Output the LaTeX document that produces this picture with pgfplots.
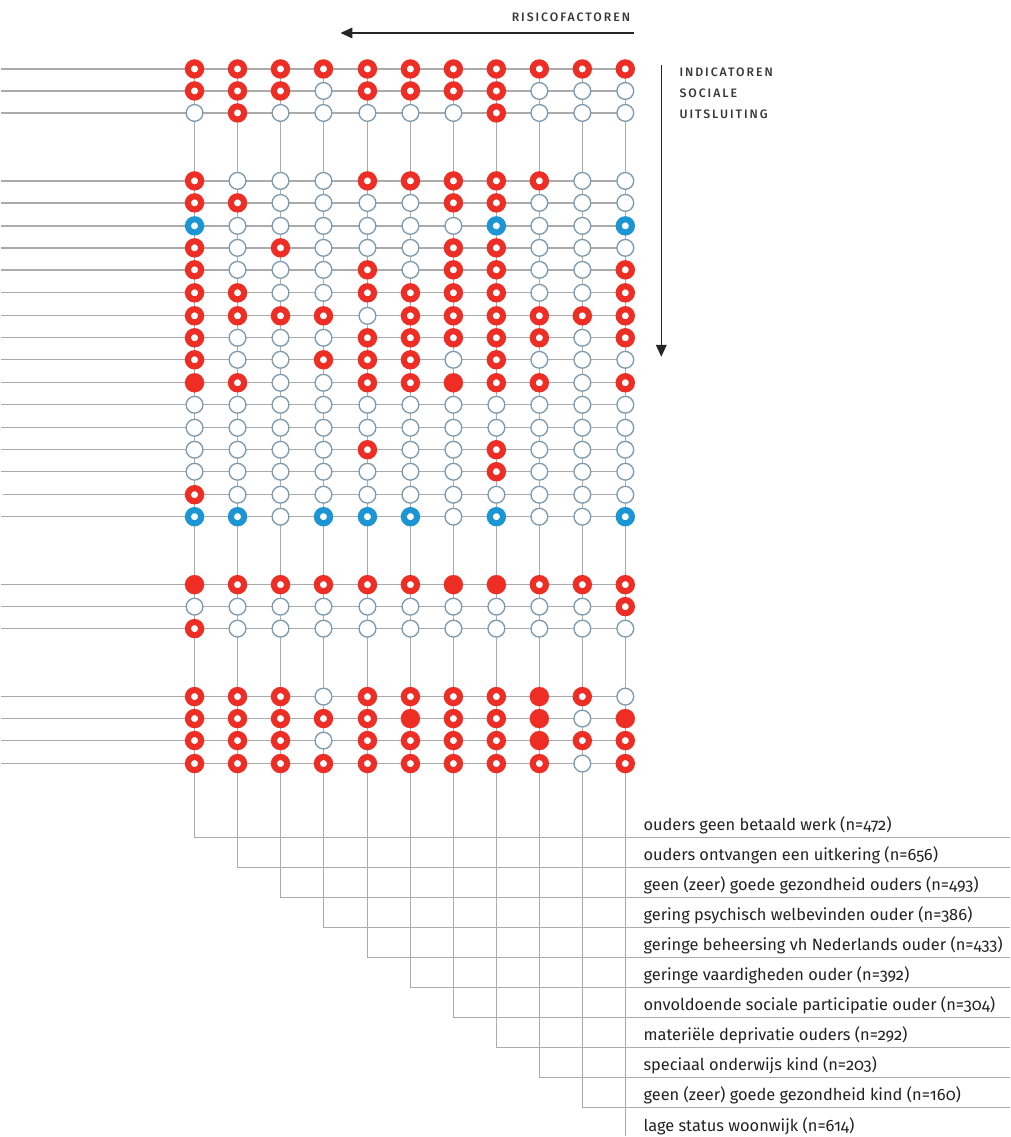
\documentclass[border=0pt]{standalone}
\usepackage{pgfplots}
\pgfplotsset{compat=1.18}
\usepackage{pgfplotstable}
\usepackage{fontspec}
\setmainfont{Fira Sans}[Numbers=OldStyle]
\newfontfamily\capsfont{Fira Sans}[UprightFont=* Medium, LetterSpace=16]
\usetikzlibrary{arrows.meta}

\definecolor{dotred}{HTML}{EE2E24}
\definecolor{dotblue}{HTML}{1B95D3}
\definecolor{ringgray}{HTML}{7E9AAE}
\definecolor{linegray}{HTML}{ABABAB}
\definecolor{txt}{HTML}{222222}

% O = geen verband, R = verband, S = sterk verband, B = omgekeerd verband
\pgfplotstableread{
y   c1 c2 c3 c4 c5 c6 c7 c8 c9 c10 c11
69  R  R  R  R  R  R  R  R  R  R   R
91  R  R  R  O  R  R  R  R  O  O   O
113 O  R  O  O  O  O  O  R  O  O   O
181 R  O  O  O  R  R  R  R  R  O   O
203 R  R  O  O  O  O  R  R  O  O   O
226 B  O  O  O  O  O  O  B  O  O   B
248 R  O  R  O  O  O  R  R  O  O   O
270 R  O  O  O  R  O  R  R  O  O   R
293 R  R  O  O  R  R  R  R  O  O   R
316 R  R  R  R  O  R  R  R  R  R   R
338 R  O  O  O  R  R  R  R  R  O   R
360 R  O  O  R  R  R  O  R  O  O   O
383 S  R  O  O  R  R  S  R  R  O   R
405 O  O  O  O  O  O  O  O  O  O   O
428 O  O  O  O  O  O  O  O  O  O   O
450 O  O  O  O  R  O  O  R  O  O   O
472 O  O  O  O  O  O  O  R  O  O   O
495 R  O  O  O  O  O  O  O  O  O   O
517 B  B  O  B  B  B  O  B  O  O   B
585 S  R  R  R  R  R  S  S  R  R   R
607 O  O  O  O  O  O  O  O  O  O   R
629 R  O  O  O  O  O  O  O  O  O   O
697 R  R  R  O  R  R  R  R  S  R   O
719 R  R  R  R  R  S  R  R  S  O   S
741 R  R  R  O  R  R  R  R  S  R   R
764 R  R  R  R  R  R  R  R  R  O   R
}\grid

\pgfplotsset{
  dots/.style={scatter, only marks, scatter src=explicit symbolic,
    scatter/classes={
      O={mark=*, mark size=6.3pt, draw=ringgray, fill=white, line width=1.0pt},
      R={mark=*, mark size=4.95pt, draw=dotred, fill=white, line width=4.6pt},
      S={mark=*, mark size=7.2pt, draw=dotred, fill=dotred, line width=0.1pt},
      B={mark=*, mark size=4.95pt, draw=dotblue, fill=white, line width=4.6pt}}},
  conn/.style={linegray, line width=1.0pt, no marks},
}
\tikzset{
  factorlabel/.style={anchor=west, inner sep=0pt, text=txt, font=\fontsize{12.3}{14}\selectfont},
  headlabel/.style={inner sep=0pt, text=txt!90, font=\capsfont\fontsize{9.2}{10}\selectfont},
}

\begin{document}
\begin{tikzpicture}
\begin{axis}[
    width=757.5pt, height=852.75pt, scale only axis,
    xmin=0, xmax=1010, ymin=0, ymax=1137, y dir=reverse,
    hide axis, clip=false]
\path (rel axis cs:0,0) rectangle (rel axis cs:1,1);

% rijen
\pgfplotsinvokeforeach{69,91,113,181,203,226,248,270,293,316,338,360,383,405,428,450,472,517,585,607,629,697,719,741,764}{
  \addplot[conn] coordinates {(0,#1) (625,#1)};
}
\addplot[conn] coordinates {(2,495) (625,495)};

% kolommen naar de legenda
\addplot[conn] coordinates {(194,69) (194,838)  (1010,838)};
\addplot[conn] coordinates {(237,69) (237,868)  (1010,868)};
\addplot[conn] coordinates {(280,69) (280,898)  (1010,898)};
\addplot[conn] coordinates {(323,69) (323,928)  (1010,928)};
\addplot[conn] coordinates {(367,69) (367,958)  (1010,958)};
\addplot[conn] coordinates {(410,69) (410,988)  (1010,988)};
\addplot[conn] coordinates {(453,69) (453,1018) (1010,1018)};
\addplot[conn] coordinates {(496,69) (496,1048) (1010,1048)};
\addplot[conn] coordinates {(539,69) (539,1078) (1010,1078)};
\addplot[conn] coordinates {(582,69) (582,1108) (1010,1108)};
\addplot[conn] coordinates {(625,69) (625,1137)};

% cirkels
\addplot[dots] table[x expr=194, y=y, meta=c1]  {\grid};
\addplot[dots] table[x expr=237, y=y, meta=c2]  {\grid};
\addplot[dots] table[x expr=280, y=y, meta=c3]  {\grid};
\addplot[dots] table[x expr=323, y=y, meta=c4]  {\grid};
\addplot[dots] table[x expr=367, y=y, meta=c5]  {\grid};
\addplot[dots] table[x expr=410, y=y, meta=c6]  {\grid};
\addplot[dots] table[x expr=453, y=y, meta=c7]  {\grid};
\addplot[dots] table[x expr=496, y=y, meta=c8]  {\grid};
\addplot[dots] table[x expr=539, y=y, meta=c9]  {\grid};
\addplot[dots] table[x expr=582, y=y, meta=c10] {\grid};
\addplot[dots] table[x expr=625, y=y, meta=c11] {\grid};

% pijlen
\addplot[black!85, line width=1.1pt, no marks, -{Triangle[length=9pt,width=8pt]}]
  coordinates {(634,33) (340,33)};
\addplot[black!85, line width=1.1pt, no marks, -{Triangle[length=9pt,width=8pt]}]
  coordinates {(661,65) (661,357)};

\node[headlabel, anchor=east] at (axis cs:630,17) {RISICOFACTOREN};
\node[headlabel, anchor=west] at (axis cs:679,72) {INDICATOREN};
\node[headlabel, anchor=west] at (axis cs:679,93) {SOCIALE};
\node[headlabel, anchor=west] at (axis cs:679,114) {UITSLUITING};

\node[factorlabel] at (axis cs:643,826)  {ouders geen betaald werk (n=472)};
\node[factorlabel] at (axis cs:643,856)  {ouders ontvangen een uitkering (n=656)};
\node[factorlabel] at (axis cs:643,886)  {geen (zeer) goede gezondheid ouders (n=493)};
\node[factorlabel] at (axis cs:643,916)  {gering psychisch welbevinden ouder (n=386)};
\node[factorlabel] at (axis cs:643,946)  {geringe beheersing vh Nederlands ouder (n=433)};
\node[factorlabel] at (axis cs:643,976)  {geringe vaardigheden ouder (n=392)};
\node[factorlabel] at (axis cs:643,1006) {onvoldoende sociale participatie ouder (n=304)};
\node[factorlabel] at (axis cs:643,1036) {materiële deprivatie ouders (n=292)};
\node[factorlabel] at (axis cs:643,1066) {speciaal onderwijs kind (n=203)};
\node[factorlabel] at (axis cs:643,1096) {geen (zeer) goede gezondheid kind (n=160)};
\node[factorlabel] at (axis cs:643,1127) {lage status woonwijk (n=614)};
\end{axis}
\end{tikzpicture}
\end{document}
